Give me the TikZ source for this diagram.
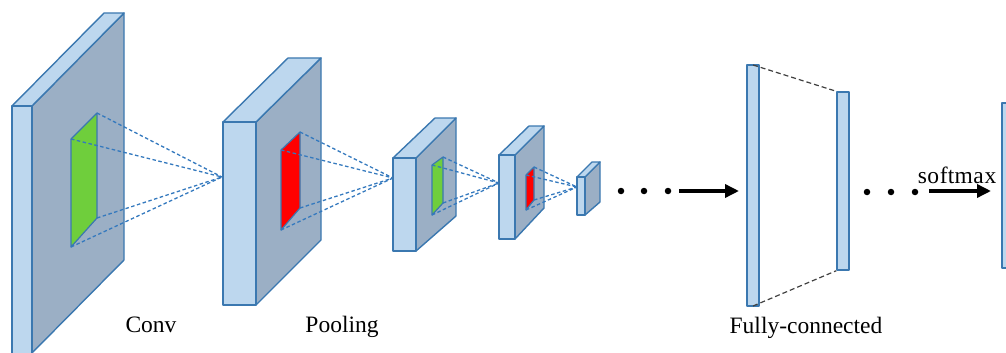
\documentclass[tikz,border=0pt]{standalone}
\usepackage{fontspec}
\setmainfont{Liberation Serif}
\usetikzlibrary{arrows.meta}
\definecolor{facelight}{HTML}{BDD7EE}
\definecolor{faceside}{HTML}{9BAFC5}
\definecolor{edgeblue}{HTML}{3B78B0}
\definecolor{dashblue}{HTML}{3479BE}
\definecolor{patchgreen}{HTML}{6FCE3C}
\definecolor{patchred}{HTML}{FF0000}
\tikzset{
  lightface/.style={fill=facelight,draw=edgeblue,line width=1.4pt,line join=round},
  sideface/.style={fill=faceside,draw=edgeblue,line width=1.4pt,line join=round},
  patch/.style={draw=edgeblue,line width=1.2pt,line join=round},
  ray/.style={draw=dashblue,line width=1.3pt,dash pattern=on 3.5pt off 2.5pt},
  fcray/.style={draw=black!75,line width=1.2pt,dash pattern=on 5pt off 3pt},
  flow/.style={line width=3.4pt,-{Triangle[length=14pt,width=13pt]}},
  dotmark/.style={circle,fill=black,inner sep=0pt,minimum size=6.5pt},
  lbl/.style={font=\fontsize{23.5}{28}\selectfont,anchor=base,inner sep=0pt}
}
\begin{document}
\begin{tikzpicture}[x=1pt,y=-1pt]
\useasboundingbox (0,0) rectangle (1006,353);
\clip (0,0) rectangle (1006,353);
% ---------- block 1 ----------
\draw[sideface] (32,106) -- (124,13) -- (124,260) -- (32,353) -- cycle;
\draw[lightface] (12,106) -- (104,13) -- (124,13) -- (32,106) -- cycle;
\draw[lightface] (12,106) rectangle (32,356);
\coordinate (g1a) at (97,113); \coordinate (g1b) at (71,139);
\coordinate (g1c) at (97,218); \coordinate (g1d) at (71,247);
\draw[patch,fill=patchgreen] (g1b) -- (g1a) -- (g1c) -- (g1d) -- cycle;
\coordinate (c1) at (222,177);
\foreach \p in {g1a,g1b,g1c,g1d} \draw[ray] (\p) -- (c1);
% ---------- block 2 ----------
\draw[sideface] (256,122) -- (321,58) -- (321,240) -- (256,305) -- cycle;
\draw[lightface] (223,122) -- (288,58) -- (321,58) -- (256,122) -- cycle;
\draw[lightface] (223,122) rectangle (256,305);
\coordinate (r2a) at (300,132); \coordinate (r2b) at (281,150);
\coordinate (r2c) at (300,208); \coordinate (r2d) at (281,230);
\draw[patch,fill=patchred] (r2b) -- (r2a) -- (r2c) -- (r2d) -- cycle;
\coordinate (c2) at (393,178);
\foreach \p in {r2a,r2b,r2c,r2d} \draw[ray] (\p) -- (c2);
% ---------- block 3 ----------
\draw[sideface] (416,158) -- (456,118) -- (456,216) -- (416,251) -- cycle;
\draw[lightface] (393,158) -- (435,118) -- (456,118) -- (416,158) -- cycle;
\draw[lightface] (393,158) rectangle (416,251);
\coordinate (g3a) at (443,157); \coordinate (g3b) at (432,165);
\coordinate (g3c) at (443,203); \coordinate (g3d) at (432,215);
\draw[patch,fill=patchgreen] (g3b) -- (g3a) -- (g3c) -- (g3d) -- cycle;
\coordinate (c3) at (499,183);
\foreach \p in {g3a,g3b,g3c,g3d} \draw[ray] (\p) -- (c3);
% ---------- block 4 ----------
\draw[sideface] (515,155) -- (544,126) -- (544,208) -- (515,239) -- cycle;
\draw[lightface] (499,155) -- (529,126) -- (544,126) -- (515,155) -- cycle;
\draw[lightface] (499,155) rectangle (515,239);
\coordinate (r4a) at (534,167); \coordinate (r4b) at (526,175);
\coordinate (r4c) at (534,200); \coordinate (r4d) at (526,210);
\draw[patch,fill=patchred] (r4b) -- (r4a) -- (r4c) -- (r4d) -- cycle;
\coordinate (c4) at (577,187);
\foreach \p in {r4a,r4b,r4c,r4d} \draw[ray] (\p) -- (c4);
% ---------- block 5 ----------
\draw[sideface] (585,177) -- (600,162) -- (600,202) -- (585,215) -- cycle;
\draw[lightface] (577,177) -- (592,162) -- (600,162) -- (585,177) -- cycle;
\draw[lightface] (577,177) rectangle (585,215);
% ---------- dots and arrow 1 ----------
\node[dotmark] (d1) at (621,191) {};
\node[dotmark] (d2) at (644,191) {};
\node[dotmark] (d3) at (668,191) {};
\coordinate (a1s) at (679,191);
\coordinate (a1e) at (739,191);
\draw[flow] (a1s) -- (a1e);
% ---------- fully connected ----------
\node[lightface,minimum width=12pt,minimum height=241pt,inner sep=0pt,draw,fill=facelight] (fc1) at (753,185.5) {};
\node[lightface,minimum width=12pt,minimum height=178pt,inner sep=0pt,draw,fill=facelight] (fc2) at (843,181) {};
\coordinate (fc1t) at (753,65); \coordinate (fc1b) at (753,306);
\draw[fcray] (fc1t) -- (fc2.north west);
\draw[fcray] (fc1b) -- (fc2.south west);
% ---------- dots and softmax arrow ----------
\node[dotmark] (d4) at (867,192) {};
\node[dotmark] (d5) at (891,192) {};
\node[dotmark] (d6) at (915,192) {};
\coordinate (a2s) at (929,191);
\coordinate (a2e) at (991,191);
\draw[flow] (a2s) -- (a2e);
\node[lbl] (sm) at (957,183) {s\kern0.6pt o\kern0.6pt f\kern0.2pt t\kern0.2pt m\kern0.6pt a\kern0.6pt x};
% ---------- output layer ----------
\draw[lightface] (1002,103) rectangle (1012,268);
% ---------- labels ----------
\node[lbl] (conv) at (151,332) {Conv};
\node[lbl] (pool) at (342,332) {Pooling};
\node[lbl] (fc) at (806,333) {Fully-connected};
\end{tikzpicture}
\end{document}
